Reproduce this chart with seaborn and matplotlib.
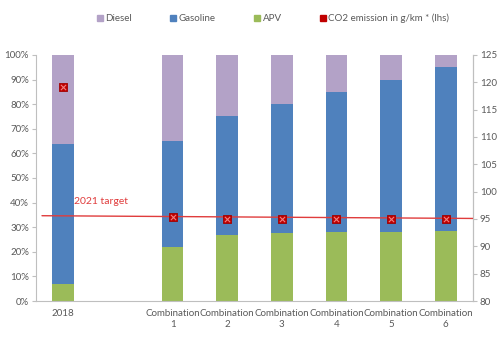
import matplotlib
matplotlib.use("Agg")
import matplotlib.pyplot as plt
from matplotlib.lines import Line2D
from matplotlib.ticker import FixedLocator, PercentFormatter
import numpy as np
import pandas as pd
import seaborn as sns

# Shares of powertrain mix (%) and average fleet CO2 emission (g/km)
categories = ["2018", "", "Combination\n1", "Combination\n2", "Combination\n3",
              "Combination\n4", "Combination\n5", "Combination\n6"]
apv = [7, np.nan, 22, 27, 27.5, 28, 28, 28.5]
gasoline = [57, np.nan, 43, 48, 52.5, 57, 62, 66.5]
diesel = [36, np.nan, 35, 25, 20, 15, 10, 5]
co2 = [119.1, np.nan, 95.4, 95.0, 95.0, 95.0, 95.0, 95.0]
target_ends = [95.6, 95.1]
target_label = "2021 target"

C_DIESEL = "#B3A2C7"
C_GAS = "#4F81BD"
C_APV = "#9BBB59"
C_RED = "#C00000"
C_TARGET = "#E03C3C"
C_TEXT = "#595959"
C_AXIS = "#BFBFBF"

sns.set_theme(style="white")
plt.rcParams["font.family"] = ["Lato", "DejaVu Sans"]

df = pd.DataFrame({"cat": categories, "apv": apv, "gas": gasoline, "diesel": diesel})
df["gas_top"] = df["apv"] + df["gas"]
df["diesel_top"] = df["gas_top"] + df["diesel"]

fig = plt.figure(figsize=(5.04, 3.39), dpi=100)
ax = fig.add_axes([0.0714, 0.112, 0.8671, 0.726])

# stacked bars: draw cumulative totals from the top segment down
for col, color in [("diesel_top", C_DIESEL), ("gas_top", C_GAS), ("apv", C_APV)]:
    sns.barplot(data=df, x="cat", y=col, order=categories, color=color,
                width=0.4, saturation=1, ax=ax, edgecolor="none")

ax.set_xlim(-0.5, len(categories) - 0.5)
ax.set_ylim(0, 100)
ax.yaxis.set_major_locator(FixedLocator(np.arange(0, 101, 10)))
ax.yaxis.set_major_formatter(PercentFormatter(decimals=0))
ax.set_xlabel("")
ax.set_ylabel("")
ax.set_xticks(range(len(categories)))
ax.set_xticklabels(categories)
ax.xaxis.set_minor_locator(FixedLocator(np.arange(-0.5, len(categories), 1)))
ax.tick_params(axis="x", which="major", length=0, pad=6, labelsize=7, colors=C_TEXT)
ax.tick_params(axis="x", which="minor", length=4, width=0.8, color=C_AXIS, direction="out")
ax.tick_params(axis="y", length=3, width=0.8, color=C_AXIS, labelsize=7,
               labelcolor=C_TEXT, pad=2, direction="out")
for lbl in ax.get_xticklabels():
    lbl.set_color(C_TEXT)
ax.spines["top"].set_visible(False)
for side in ["left", "bottom", "right"]:
    ax.spines[side].set_color(C_AXIS)
    ax.spines[side].set_linewidth(0.8)

# CO2 emission on secondary axis
ax2 = ax.twinx()
ax2.set_ylim(80, 125)
ax2.yaxis.set_major_locator(FixedLocator(np.arange(80, 126, 5)))
ax2.tick_params(axis="y", length=3, width=0.8, color=C_AXIS, labelsize=7,
                labelcolor=C_TEXT, pad=2, direction="out")
for side in ["top", "left", "bottom"]:
    ax2.spines[side].set_visible(False)
ax2.spines["right"].set_color(C_AXIS)
ax2.spines["right"].set_linewidth(0.8)

x_left, x_right = -0.39, len(categories) - 0.5
ax2.plot([x_left, x_right], target_ends, color=C_TARGET, lw=1.0, zorder=3)
ax2.text(0.2, 97.3, target_label, color=C_TARGET, fontsize=7.5, ha="left", va="bottom")

co2_df = pd.DataFrame({"x": np.arange(len(categories)), "co2": co2}).dropna()
sns.scatterplot(data=co2_df, x="x", y="co2", marker="s", s=36, color=C_RED,
                edgecolor="#A00000", linewidth=0.6, ax=ax2, zorder=4, legend=False)
sns.scatterplot(data=co2_df, x="x", y="co2", marker="x", s=14, color="#F08080",
                linewidth=0.8, ax=ax2, zorder=5, legend=False)
ax2.set_xlabel("")
ax2.set_ylabel("")
ax2.set_xlim(-0.5, len(categories) - 0.5)

handles = [
    Line2D([], [], marker="s", ls="none", color=C_DIESEL, markersize=5),
    Line2D([], [], marker="s", ls="none", color=C_GAS, markersize=5),
    Line2D([], [], marker="s", ls="none", color=C_APV, markersize=5),
    Line2D([], [], marker="s", ls="none", color=C_RED, markersize=5),
]
labels = ["Diesel", "Gasoline", "APV", "CO2 emission in g/km * (lhs)"]
fig.legend(handles, labels, loc="center", bbox_to_anchor=(0.54, 0.945), ncol=4,
           frameon=False, fontsize=7, labelcolor=C_TEXT, handletextpad=0.1,
           columnspacing=3.7, handlelength=1.0)

fig.savefig("out.png", dpi=100)
